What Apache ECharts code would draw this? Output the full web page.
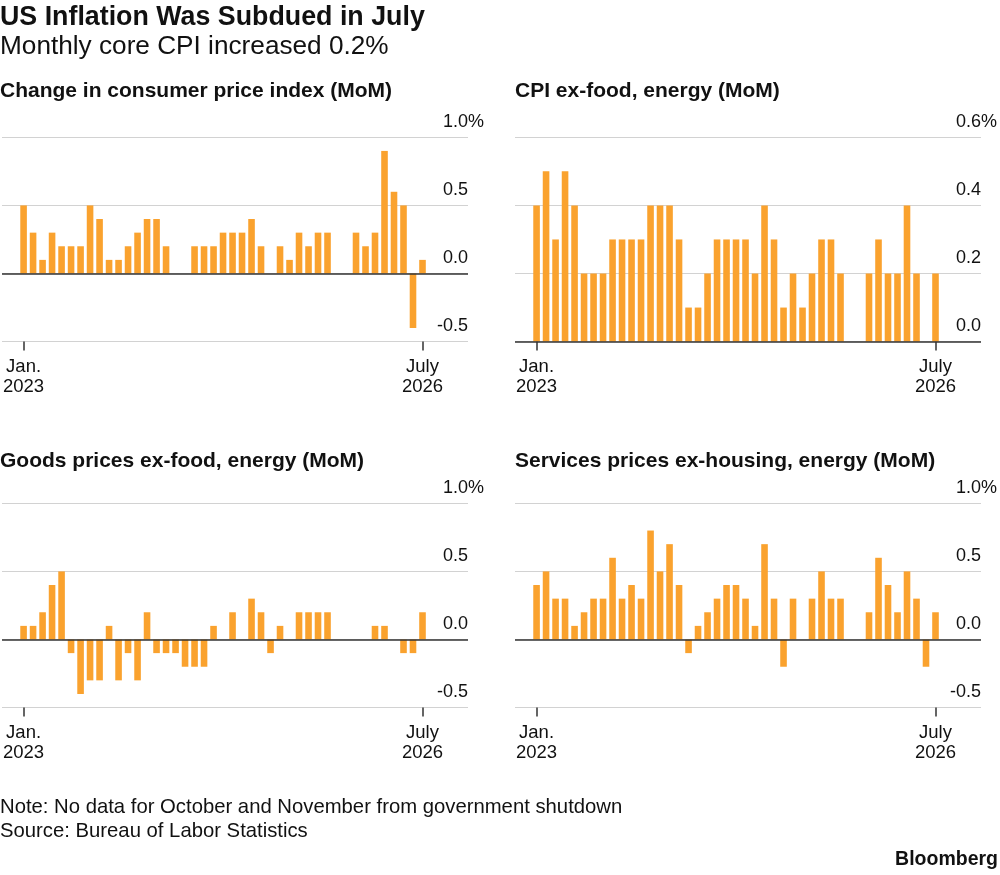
<!DOCTYPE html>
<html>
<head>
<meta charset="utf-8">
<script src="https://cdn.jsdelivr.net/npm/echarts@6/dist/echarts.min.js"></script>
<style>
  html, body { margin: 0; padding: 0; background: #fff; }
  #chart { width: 1000px; height: 875px; }
</style>
</head>
<body>
<div id="chart"></div>
<script>
// monthly change, Jan 2023 .. July 2026 (43 months), Oct/Nov 2025 missing
const tickIdx = [0, 42];
const tickLabels = ['Jan.\n2023', 'July\n2026'];

const headline = [0.5, 0.3, 0.1, 0.3, 0.2, 0.2, 0.2, 0.5, 0.4, 0.1,
  0.1, 0.2, 0.3, 0.4, 0.4, 0.2, 0.0, 0.0, 0.2, 0.2,
  0.2, 0.3, 0.3, 0.3, 0.4, 0.2, 0.0, 0.2, 0.1, 0.3,
  0.2, 0.3, 0.3, null, null, 0.3, 0.2, 0.3, 0.9, 0.6,
  0.5, -0.4, 0.1];
const core = [0.4, 0.5, 0.3, 0.5, 0.4, 0.2, 0.2, 0.2, 0.3, 0.3,
  0.3, 0.3, 0.4, 0.4, 0.4, 0.3, 0.1, 0.1, 0.2, 0.3,
  0.3, 0.3, 0.3, 0.2, 0.4, 0.3, 0.1, 0.2, 0.1, 0.2,
  0.3, 0.3, 0.2, null, null, 0.2, 0.3, 0.2, 0.2, 0.4,
  0.2, 0.0, 0.2];
const goods = [0.1, 0.1, 0.2, 0.4, 0.5, -0.1, -0.4, -0.3, -0.3, 0.1,
  -0.3, -0.1, -0.3, 0.2, -0.1, -0.1, -0.1, -0.2, -0.2, -0.2,
  0.1, 0.0, 0.2, 0.0, 0.3, 0.2, -0.1, 0.1, 0.0, 0.2,
  0.2, 0.2, 0.2, null, null, 0.0, 0.0, 0.1, 0.1, 0.0,
  -0.1, -0.1, 0.2];
const services = [0.4, 0.5, 0.3, 0.3, 0.1, 0.2, 0.3, 0.3, 0.6, 0.3,
  0.4, 0.3, 0.8, 0.5, 0.7, 0.4, -0.1, 0.1, 0.2, 0.3,
  0.4, 0.4, 0.3, 0.1, 0.7, 0.3, -0.2, 0.3, 0.0, 0.3,
  0.5, 0.3, 0.3, null, null, 0.2, 0.6, 0.4, 0.2, 0.5,
  0.3, -0.2, 0.2];

const panelTitles = ['Change in consumer price index (MoM)', 'CPI ex-food, energy (MoM)',
  'Goods prices ex-food, energy (MoM)', 'Services prices ex-housing, energy (MoM)'];
const panelData = [headline, core, goods, services];
const yMin = [-0.5, 0, -0.5, -0.5];
const yMax = [1.0, 0.6, 1.0, 1.0];
const yStep = [0.5, 0.2, 0.5, 0.5];

const FONT = 'Liberation Sans, Arial, sans-serif';
const ORANGE = '#FAA22E';
const INK = '#111';

// panel boxes (px)
const gridPos = [
  { left: 0, top: 137.3 },
  { left: 515, top: 137.3 },
  { left: 0, top: 503.3 },
  { left: 515, top: 503.3 }
];
const W = 468, H = 204.3;

const chart = echarts.init(document.getElementById('chart'));

const grids = [], xAxes = [], yAxes = [], series = [];
panelData.forEach(function (vals, k) {
  grids.push({ left: gridPos[k].left, top: gridPos[k].top, width: W, height: H });
  xAxes.push({
    gridIndex: k,
    type: 'value',
    min: -2.27,
    max: 46.79,
    axisLine: { show: false, onZero: false },
    splitLine: { show: false },
    axisTick: {
      show: true, customValues: tickIdx, length: 9,
      lineStyle: { color: '#333', width: 1.5 }
    },
    axisLabel: {
      show: true, customValues: tickIdx, margin: 15,
      fontFamily: FONT, fontSize: 18.5, lineHeight: 20, color: INK,
      formatter: function (v) { return tickLabels[tickIdx.indexOf(Math.round(v))] || ''; }
    }
  });
  const mx = yMax[k];
  yAxes.push({
    gridIndex: k,
    type: 'value',
    position: 'right',
    min: yMin[k],
    max: mx,
    interval: yStep[k],
    axisLine: { show: false },
    axisTick: { show: false },
    splitLine: { show: true, lineStyle: { color: '#d2d2d2', width: 1.2 } },
    axisLabel: {
      showMinLabel: true, showMaxLabel: true,
      align: 'right', verticalAlign: 'bottom', margin: 16,
      fontFamily: FONT, fontSize: 18, lineHeight: 31, color: INK,
      formatter: function (v) {
        const s = v.toFixed(1) === '-0.0' ? '0.0' : v.toFixed(1);
        return Math.abs(v - mx) < 1e-9 ? s + '{p|%}' : s + '{h|%}';
      },
      rich: {
        p: { fontFamily: FONT, fontSize: 18, lineHeight: 31, color: INK },
        h: { fontFamily: FONT, fontSize: 18, lineHeight: 31, color: 'transparent' }
      }
    }
  });
  const pts = [];
  vals.forEach(function (v, i) { if (v !== null) pts.push([i, v]); });
  series.push({
    type: 'bar',
    xAxisIndex: k,
    yAxisIndex: k,
    data: pts,
    barWidth: 6.6,
    itemStyle: { color: ORANGE },
    silent: true,
    markLine: {
      silent: true,
      symbol: 'none',
      label: { show: false },
      lineStyle: { color: '#333', width: 1.5, type: 'solid' },
      data: [{ yAxis: 0 }]
    }
  });
});

function txt(x, y, text, size, weight, align) {
  return {
    type: 'text', x: x, y: y,
    style: {
      text: text, fill: INK,
      font: (weight || 'normal') + ' ' + size + 'px ' + FONT,
      align: align || 'left', verticalAlign: 'middle'
    }
  };
}

const option = {
  animation: false,
  backgroundColor: '#fff',
  grid: grids,
  xAxis: xAxes,
  yAxis: yAxes,
  series: series,
  graphic: [
    txt(0, 18, 'US Inflation Was Subdued in July', 26.8, 'bold'),
    txt(0, 46.5, 'Monthly core CPI increased 0.2%', 26.2),
    txt(0, 91, panelTitles[0], 21, 'bold'),
    txt(515, 91, panelTitles[1], 21, 'bold'),
    txt(0, 461, panelTitles[2], 21, 'bold'),
    txt(515, 461, panelTitles[3], 21, 'bold'),
    txt(0, 807.5, 'Note: No data for October and November from government shutdown', 20.3),
    txt(0, 831, 'Source: Bureau of Labor Statistics', 20.3),
    txt(998, 860, 'Bloomberg', 19.5, 'bold', 'right')
  ]
};
chart.setOption(option);
</script>
</body>
</html>
